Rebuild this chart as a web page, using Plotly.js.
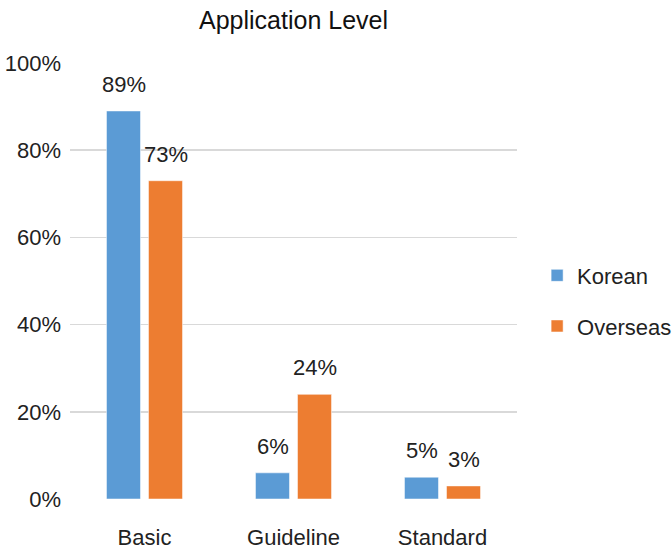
<!DOCTYPE html>
<html><head><meta charset="utf-8">
<script src="https://cdn.plot.ly/plotly-3.0.1.min.js"></script>
<style>body{margin:0;background:#fff}#c{width:672px;height:550px}</style>
</head><body><div id="c"></div>
<script>
const categories = ["Basic", "Guideline", "Standard"];
const korean = [0.89, 0.06, 0.05];
const overseas = [0.73, 0.24, 0.03];
const seriesNames = ["Korean", "Overseas"];
const colors = ["#5B9BD5", "#ED7D31"];
const F = "Liberation Sans, Arial, sans-serif";

const series = [korean, overseas];
const traces = series.map((vals, i) => ({
  type: "bar", name: seriesNames[i], x: categories, y: vals,
  legendgroup: "g" + i,
  marker: {color: colors[i], line: {color: "rgba(255,255,255,0.5)", width: 1}},
  hoverinfo: "none"
}));

const annotations = [];
series.forEach((vals, i) => {
  vals.forEach((v, j) => {
    annotations.push({
      x: categories[j], y: v, xref: "x", yref: "y",
      text: Math.round(v * 100) + "%", showarrow: false,
      xshift: i === 0 ? -21 : 21, yanchor: "bottom", yshift: 12,
      font: {family: F, size: 22, color: "#222"}
    });
  });
});

const layout = {
  width: 672, height: 550,
  margin: {l: 70, r: 155, t: 63, b: 51, autoexpand: false},
  paper_bgcolor: "#fff", plot_bgcolor: "#fff",
  title: {text: "Application Level", xref: "paper", x: 0.5, xanchor: "center", y: 0.963, yanchor: "middle",
          font: {family: F, size: 25, color: "#111"}},
  barmode: "group", bargap: 0.436, bargroupgap: 0.19,
  xaxis: {tickfont: {family: F, size: 22, color: "#222"}, showgrid: false, zeroline: false,
          showline: false, ticks: "", ticklabelstandoff: 23},
  yaxis: {range: [0, 1], dtick: 0.2, tickformat: ".0%", tickfont: {family: F, size: 22, color: "#222"},
          gridcolor: "#d9d9d9", gridwidth: 1.5, zeroline: false, showline: false, ticks: "",
          ticklabelstandoff: 8},
  legend: {x: 1.045, xanchor: "left", y: 0.454, yanchor: "middle", traceorder: "grouped",
           tracegroupgap: 19, font: {family: F, size: 22, color: "#222"}},
  annotations: annotations,
  showlegend: true
};
Plotly.newPlot("c", traces, layout, {displayModeBar: false, staticPlot: true});
</script></body></html>
